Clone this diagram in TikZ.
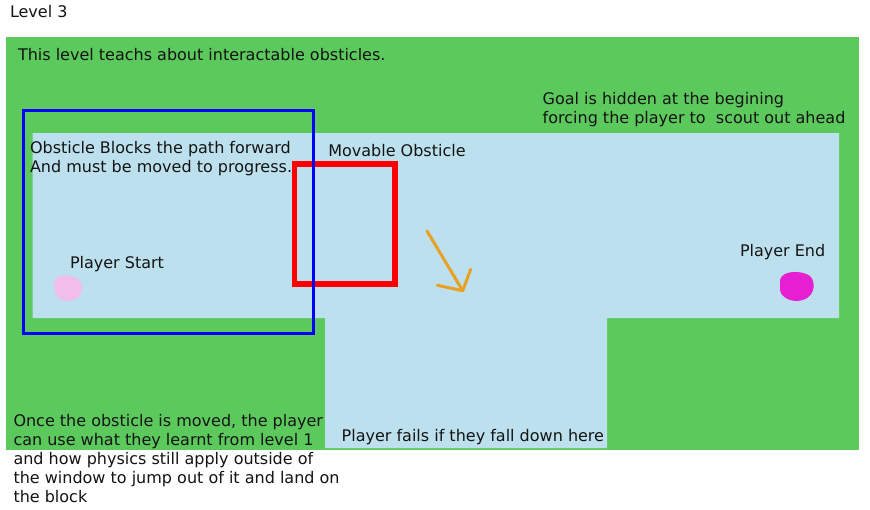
\documentclass[tikz,border=0pt]{standalone}
\usepackage{fontspec}
\setmainfont{DejaVu Sans}
\definecolor{grass}{RGB}{92,201,92}
\definecolor{sky}{RGB}{188,224,238}
\definecolor{orng}{RGB}{234,160,34}
\definecolor{pinkblob}{RGB}{240,190,232}
\definecolor{magblob}{RGB}{230,32,208}
\definecolor{ink}{RGB}{20,20,20}
\tikzset{
  lbl/.style={anchor=base west, inner sep=0pt, outer sep=0pt, text=ink,
    font=\fontsize{16}{19}\selectfont},
}
\begin{document}
\begin{tikzpicture}[x=1pt,y=-1pt]
\useasboundingbox (0,0) rectangle (870,509);
\fill[white] (0,0) rectangle (870,509);
% ground
\fill[grass] (6,37) rectangle (859,450);
% open area
\fill[sky] (32.5,133) -- (839,133) -- (839,318) -- (607,318) -- (607,448)
  -- (325,448) -- (325,318) -- (32.5,318) -- cycle;
% player blobs
\fill[pinkblob] (54,284) .. controls (54,272) and (78,273) .. (82,284)
  .. controls (84,296) and (76,301) .. (67,301)
  .. controls (58,301) and (54,294) .. (54,284) -- cycle;
\fill[magblob] (780,280) .. controls (782,270) and (802,270) .. (810,276)
  .. controls (817,283) and (815,300) .. (797,301)
  .. controls (786,301) and (780,294) .. (780,290) -- cycle;
% movable obstacle
\draw[red, line width=5.8pt] (294.5,163.7) rectangle (395.3,284);
% highlight box
\draw[blue, line width=3pt] (23.5,110.5) rectangle (313,333);
% arrow
\draw[orng, line width=3pt, line cap=round, line join=round]
  (427,231) -- (462.7,290.7);
\draw[orng, line width=3pt, line cap=round, line join=round]
  (470.7,269.3) -- (462.7,290.7) -- (437.3,285.3);
% texts
\node[lbl] (t1) at (10,17) {Level 3};
\node[lbl] (t2) at (18,60.5) {This level teachs about interactable obsticles.};
\node[lbl] (t3a) at (30,153.3) {Obsticle Blocks the path forward};
\node[lbl] (t3b) at (30,172.5) {And must be moved to progress.};
\node[lbl] (t4) at (328.3,156) {Movable Obsticle};
\node[lbl] (t5a) at (542.7,104.3) {Goal is hidden at the begining};
\node[lbl] (t5b) at (542.7,123.3) {forcing the player to\ \ scout out ahead};
\node[lbl] (t6) at (740,256) {Player End};
\node[lbl] (t7) at (70,268.3) {Player Start};
\node[lbl] (t8a) at (13.5,426) {Once the obsticle is moved, the player};
\node[lbl] (t8b) at (13.5,445) {can use what they learnt from level 1};
\node[lbl] (t8c) at (13.5,464.3) {and how physics still apply outside of};
\node[lbl] (t8d) at (13.5,483.3) {the window to jump out of it and land on};
\node[lbl] (t8e) at (13.5,502.3) {the block};
\node[lbl] (t9) at (341.7,441.7) {Player fails if they fall down here};
\end{tikzpicture}
\end{document}
